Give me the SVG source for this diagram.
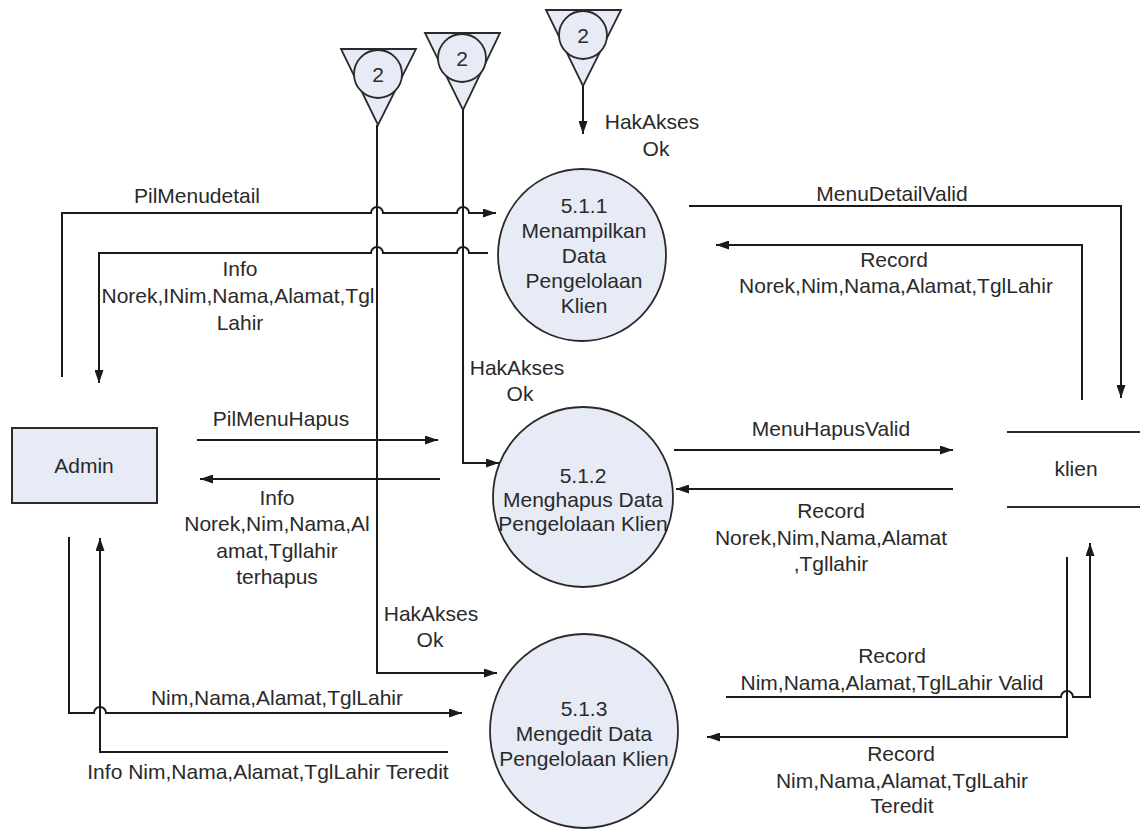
<svg xmlns="http://www.w3.org/2000/svg" width="1140" height="831" viewBox="0 0 1140 831">
<defs>
<marker id="ah" viewBox="0 0 13 9" markerWidth="13" markerHeight="9" refX="13" refY="4.5" orient="auto" markerUnits="userSpaceOnUse">
<path d="M0,0 L13,4.5 L0,9 z" fill="#1a1a1a"/>
</marker>
<style>
text{font-family:"Liberation Sans",Arial,sans-serif;font-size:21px;fill:#2a2a2a;text-anchor:middle;dominant-baseline:central}
.proc{fill:#e6ebf6;stroke:#2a2a2a;stroke-width:1.8}
.ent{fill:#e6ebf6;stroke:#2a2a2a;stroke-width:2}
.ref{fill:#e6ebf6;stroke:#2a2a2a;stroke-width:1.8}
.st{stroke:#2a2a2a;stroke-width:2;fill:none}
.fl{stroke:#1a1a1a;stroke-width:2;fill:none}
.ar{marker-end:url(#ah)}
</style>
</defs>
<rect width="1140" height="831" fill="#ffffff"/>

<g id="ref1">
<polygon class="ref" points="341,49 416,49 378,125"/>
<circle class="ref" cx="378" cy="74" r="24"/>
<text x="378" y="74">2</text>
</g>
<g id="ref2">
<polygon class="ref" points="425,33 500,33 463,110"/>
<circle class="ref" cx="462" cy="58" r="24"/>
<text x="462" y="58">2</text>
</g>
<g id="ref3">
<polygon class="ref" points="546,10 621,10 583,86"/>
<circle class="ref" cx="583" cy="35" r="24"/>
<text x="583" y="35">2</text>
</g>

<g id="admin">
<rect class="ent" x="12" y="428" width="145" height="75"/>
<text x="84" y="465">Admin</text>
</g>

<g id="klien">
<line class="st" x1="1007" y1="432" x2="1140" y2="432"/>
<line class="st" x1="1007" y1="507" x2="1140" y2="507"/>
<text x="1076" y="468">klien</text>
</g>

<g id="p511">
<ellipse class="proc" cx="582" cy="255" rx="84" ry="86"/>
<text x="584" y="205">5.1.1</text>
<text x="584" y="230">Menampilkan</text>
<text x="584" y="255">Data</text>
<text x="584" y="280">Pengelolaan</text>
<text x="584" y="305">Klien</text>
</g>

<g id="p512">
<ellipse class="proc" cx="583" cy="497" rx="90" ry="90"/>
<text x="583" y="475">5.1.2</text>
<text x="583" y="499">Menghapus Data</text>
<text x="583" y="523">Pengelolaan Klien</text>
</g>

<g id="p513">
<ellipse class="proc" cx="584" cy="731" rx="94" ry="97"/>
<text x="584" y="708">5.1.3</text>
<text x="584" y="733">Mengedit Data</text>
<text x="584" y="758">Pengelolaan Klien</text>
</g>

<g id="connectors">
<path class="fl ar" d="M583,86 V134"/>
<path class="fl ar" d="M463,110 V463 H499"/>
<path class="fl ar" d="M377,125 V673 H497"/>
<path class="fl ar" d="M62,377 V213 H371 a6,6 0 0 1 12,0 H457 a6,6 0 0 1 12,0 H496"/>
<path class="fl ar" d="M488,253 H469 a6,6 0 0 0 -12,0 H383 a6,6 0 0 0 -12,0 H99 V383"/>
<path class="fl ar" d="M689,206 H1121 V398"/>
<path class="fl ar" d="M1082,400 V245 H716"/>
<path class="fl ar" d="M197,440 H438"/>
<path class="fl ar" d="M440,479 H200"/>
<path class="fl ar" d="M674,450 H953"/>
<path class="fl ar" d="M953,489 H676"/>
<path class="fl ar" d="M69,537 V713 H94 a6,6 0 0 1 12,0 H462"/>
<path class="fl ar" d="M448,752 H100 V538"/>
<path class="fl ar" d="M726,697 H1061 a6,6 0 0 1 12,0 H1090 V543"/>
<path class="fl ar" d="M1067,557 V737 H707"/>
</g>

<g id="labels">
<text x="652" y="121">HakAkses</text>
<text x="656" y="148">Ok</text>
<text x="197" y="195">PilMenudetail</text>
<text x="240" y="268">Info</text>
<text x="238" y="295">Norek,INim,Nama,Alamat,Tgl</text>
<text x="240" y="322">Lahir</text>
<text x="892" y="193">MenuDetailValid</text>
<text x="894" y="259">Record</text>
<text x="896" y="285">Norek,Nim,Nama,Alamat,TglLahir</text>
<text x="517" y="367">HakAkses</text>
<text x="520" y="393">Ok</text>
<text x="281" y="418">PilMenuHapus</text>
<text x="277" y="497">Info</text>
<text x="277" y="523">Norek,Nim,Nama,Al</text>
<text x="277" y="550">amat,Tgllahir</text>
<text x="277" y="576">terhapus</text>
<text x="831" y="428">MenuHapusValid</text>
<text x="831" y="510">Record</text>
<text x="831" y="537">Norek,Nim,Nama,Alamat</text>
<text x="831" y="563">,Tgllahir</text>
<text x="431" y="613">HakAkses</text>
<text x="430" y="639">Ok</text>
<text x="277" y="697">Nim,Nama,Alamat,TglLahir</text>
<text x="268" y="771">Info Nim,Nama,Alamat,TglLahir Teredit</text>
<text x="892" y="655">Record</text>
<text x="892" y="682">Nim,Nama,Alamat,TglLahir Valid</text>
<text x="901" y="753">Record</text>
<text x="902" y="780">Nim,Nama,Alamat,TglLahir</text>
<text x="902" y="805">Teredit</text>
</g>
</svg>
